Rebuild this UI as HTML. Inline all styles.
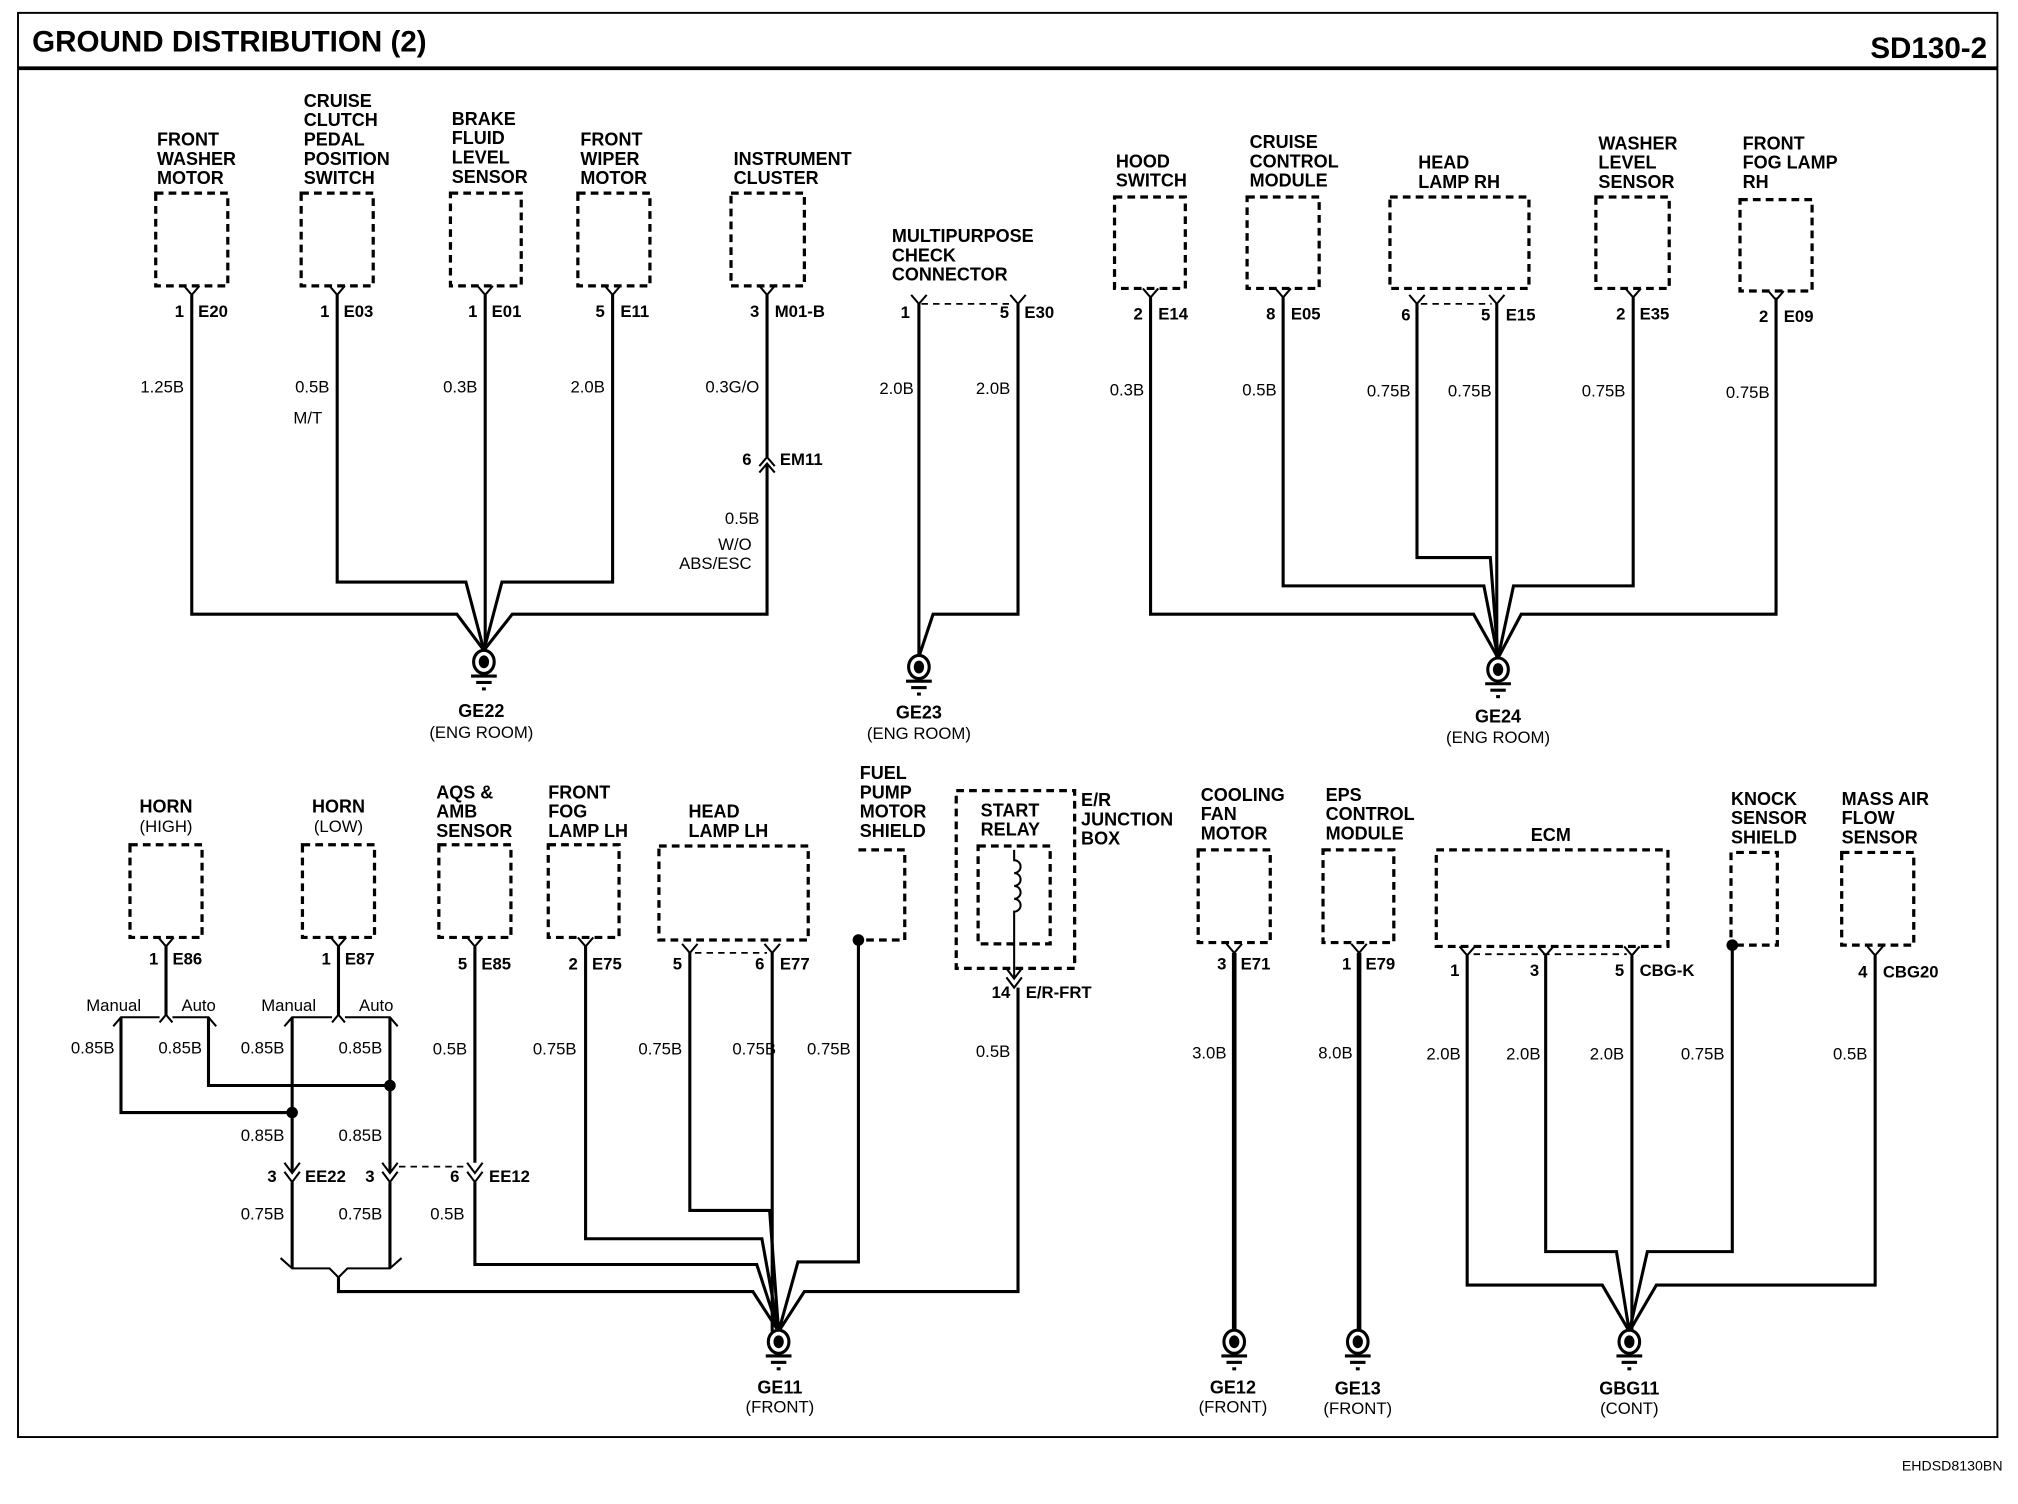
<!DOCTYPE html>
<html><head><meta charset="utf-8"><style>
html,body{margin:0;padding:0;background:#fff;}
svg{display:block;}
text{font-family:"Liberation Sans",Arial,sans-serif;fill:#000;}
.l{font-weight:bold;font-size:14px;}
.s{font-size:13px;}
.p{font-size:13px;font-weight:bold;}
.d{fill:none;stroke:#000;stroke-width:2.5;stroke-dasharray:6 4;}
.w{fill:none;stroke:#000;stroke-width:2.4;stroke-linejoin:miter;}
.t{fill:none;stroke:#000;stroke-width:3.6;}
.c{fill:none;stroke:#000;stroke-width:1.6;}
.dl{fill:none;stroke:#000;stroke-width:1.4;stroke-dasharray:5 4;}
</style></head><body>
<svg width="2018" height="1504" viewBox="0 0 1568 1168" preserveAspectRatio="none" xmlns="http://www.w3.org/2000/svg">
<defs>
<g id="gnd"><ellipse cx="0" cy="0" rx="8" ry="9" fill="#fff" stroke="#000" stroke-width="2.4"/><ellipse cx="0" cy="0" rx="4" ry="5" fill="#000"/><line x1="-10" y1="11" x2="10" y2="11" stroke="#000" stroke-width="2.4"/><line x1="-6" y1="16" x2="6" y2="16" stroke="#000" stroke-width="2.4"/><line x1="-1.5" y1="21" x2="1.5" y2="21" stroke="#000" stroke-width="2.4"/></g>
<path id="pin" d="M-6,-7 L0,0 L6,-7" fill="none" stroke="#000" stroke-width="1.6"/>
</defs>
<!-- frame -->
<rect x="14" y="10" width="1538" height="1106" fill="none" stroke="#000" stroke-width="1.5"/>
<line x1="14" y1="53" x2="1552" y2="53" stroke="#000" stroke-width="3"/>
<text x="25" y="40" style="font-weight:bold;font-size:23px">GROUND DISTRIBUTION (2)</text>
<text x="1544" y="45" text-anchor="end" style="font-weight:bold;font-size:23px">SD130-2</text>
<text x="1556" y="1142" text-anchor="end" style="font-size:11px">EHDSD8130BN</text>

<!-- ===== TOP LEFT GE22 ===== -->
<text class="l" x="122" y="113">FRONT</text><text class="l" x="122" y="128">WASHER</text><text class="l" x="122" y="143">MOTOR</text>
<rect class="d" x="121" y="150" width="56" height="72"/>
<use href="#pin" x="149" y="229"/>
<text class="p" x="143" y="246" text-anchor="end">1</text><text class="p" x="154" y="246">E20</text>
<text class="s" x="143" y="305" text-anchor="end">1.25B</text>

<text class="l" x="236" y="83">CRUISE</text><text class="l" x="236" y="98">CLUTCH</text><text class="l" x="236" y="113">PEDAL</text><text class="l" x="236" y="128">POSITION</text><text class="l" x="236" y="143">SWITCH</text>
<rect class="d" x="234" y="150" width="56" height="72"/>
<use href="#pin" x="262" y="229"/>
<text class="p" x="256" y="246" text-anchor="end">1</text><text class="p" x="267" y="246">E03</text>
<text class="s" x="256" y="305" text-anchor="end">0.5B</text><text class="s" x="228" y="329">M/T</text>

<text class="l" x="351" y="97">BRAKE</text><text class="l" x="351" y="112">FLUID</text><text class="l" x="351" y="127">LEVEL</text><text class="l" x="351" y="142">SENSOR</text>
<rect class="d" x="350" y="150" width="55" height="72"/>
<use href="#pin" x="377" y="229"/>
<text class="p" x="371" y="246" text-anchor="end">1</text><text class="p" x="382" y="246">E01</text>
<text class="s" x="371" y="305" text-anchor="end">0.3B</text>

<text class="l" x="451" y="113">FRONT</text><text class="l" x="451" y="128">WIPER</text><text class="l" x="451" y="143">MOTOR</text>
<rect class="d" x="449" y="150" width="56" height="72"/>
<use href="#pin" x="476" y="229"/>
<text class="p" x="470" y="246" text-anchor="end">5</text><text class="p" x="482" y="246">E11</text>
<text class="s" x="470" y="305" text-anchor="end">2.0B</text>

<text class="l" x="570" y="128">INSTRUMENT</text><text class="l" x="570" y="143">CLUSTER</text>
<rect class="d" x="568" y="150" width="57" height="72"/>
<use href="#pin" x="596" y="229"/>
<text class="p" x="590" y="246" text-anchor="end">3</text><text class="p" x="602" y="246">M01-B</text>
<text class="s" x="590" y="305" text-anchor="end">0.3G/O</text>
<path d="M590,362 L596,355 L602,362" class="c"/><path d="M590,367 L596,360 L602,367" class="c"/>
<text class="p" x="584" y="361" text-anchor="end">6</text><text class="p" x="606" y="361">EM11</text>
<text class="s" x="590" y="407" text-anchor="end">0.5B</text><text class="s" x="584" y="427" text-anchor="end">W/O</text><text class="s" x="584" y="442" text-anchor="end">ABS/ESC</text>

<path class="w" d="M149,229 V477 H355 L376,505"/>
<path class="w" d="M262,229 V452 H362 L376,505"/>
<path class="w" d="M377,229 V505"/>
<path class="w" d="M476,229 V452 H390 L376,505"/>
<path class="w" d="M596,229 V355 M596,360 V477 H398 L376,505"/>
<use href="#gnd" x="376" y="514"/>
<text class="l" x="374" y="557" text-anchor="middle">GE22</text><text class="s" x="374" y="573" text-anchor="middle">(ENG ROOM)</text>

<!-- ===== GE23 ===== -->
<text class="l" x="693" y="188">MULTIPURPOSE</text><text class="l" x="693" y="203">CHECK</text><text class="l" x="693" y="218">CONNECTOR</text>
<use href="#pin" x="714" y="236"/><use href="#pin" x="791" y="236"/>
<line class="dl" x1="716" y1="236" x2="787" y2="236"/>
<text class="p" x="707" y="247" text-anchor="end">1</text><text class="p" x="784" y="247" text-anchor="end">5</text><text class="p" x="796" y="247">E30</text>
<text class="s" x="710" y="306" text-anchor="end">2.0B</text><text class="s" x="785" y="306" text-anchor="end">2.0B</text>
<path class="w" d="M714,236 V510"/>
<path class="w" d="M791,236 V477 H725 L714,510"/>
<use href="#gnd" x="714" y="518"/>
<text class="l" x="714" y="558" text-anchor="middle">GE23</text><text class="s" x="714" y="574" text-anchor="middle">(ENG ROOM)</text>

<!-- ===== GE24 ===== -->
<text class="l" x="867" y="130">HOOD</text><text class="l" x="867" y="145">SWITCH</text>
<rect class="d" x="866" y="153" width="55" height="71"/>
<use href="#pin" x="894" y="231"/>
<text class="p" x="888" y="248" text-anchor="end">2</text><text class="p" x="900" y="248">E14</text>
<text class="s" x="889" y="307" text-anchor="end">0.3B</text>

<text class="l" x="971" y="115">CRUISE</text><text class="l" x="971" y="130">CONTROL</text><text class="l" x="971" y="145">MODULE</text>
<rect class="d" x="969" y="153" width="56" height="71"/>
<use href="#pin" x="997" y="231"/>
<text class="p" x="991" y="248" text-anchor="end">8</text><text class="p" x="1003" y="248">E05</text>
<text class="s" x="992" y="307" text-anchor="end">0.5B</text>

<text class="l" x="1102" y="131">HEAD</text><text class="l" x="1102" y="146">LAMP RH</text>
<rect class="d" x="1080" y="153" width="108" height="71"/>
<use href="#pin" x="1101" y="236"/><use href="#pin" x="1163" y="236"/>
<line class="dl" x1="1104" y1="236" x2="1159" y2="236"/>
<text class="p" x="1096" y="249" text-anchor="end">6</text><text class="p" x="1158" y="249" text-anchor="end">5</text><text class="p" x="1170" y="249">E15</text>
<text class="s" x="1096" y="308" text-anchor="end">0.75B</text><text class="s" x="1159" y="308" text-anchor="end">0.75B</text>

<text class="l" x="1242" y="116">WASHER</text><text class="l" x="1242" y="131">LEVEL</text><text class="l" x="1242" y="146">SENSOR</text>
<rect class="d" x="1240" y="153" width="57" height="71"/>
<use href="#pin" x="1269" y="231"/>
<text class="p" x="1263" y="248" text-anchor="end">2</text><text class="p" x="1274" y="248">E35</text>
<text class="s" x="1263" y="308" text-anchor="end">0.75B</text>

<text class="l" x="1354" y="116">FRONT</text><text class="l" x="1354" y="131">FOG LAMP</text><text class="l" x="1354" y="146">RH</text>
<rect class="d" x="1352" y="155" width="56" height="71"/>
<use href="#pin" x="1380" y="233"/>
<text class="p" x="1374" y="250" text-anchor="end">2</text><text class="p" x="1386" y="250">E09</text>
<text class="s" x="1375" y="309" text-anchor="end">0.75B</text>

<path class="w" d="M894,231 V477 H1145 L1164,511"/>
<path class="w" d="M997,231 V455 H1153 L1164,511"/>
<path class="w" d="M1101,236 V433 H1158 L1164,511"/>
<path class="w" d="M1163,236 V511"/>
<path class="w" d="M1269,231 V455 H1176 L1164,511"/>
<path class="w" d="M1380,231 V477 H1182 L1164,511"/>
<use href="#gnd" x="1164" y="520"/>
<text class="l" x="1164" y="561" text-anchor="middle">GE24</text><text class="s" x="1164" y="577" text-anchor="middle">(ENG ROOM)</text>

<!-- ===== BOTTOM GE11 ===== -->
<text class="l" x="129" y="631" text-anchor="middle">HORN</text><text class="s" x="129" y="646" text-anchor="middle">(HIGH)</text>
<rect class="d" x="101" y="656" width="56" height="72"/>
<use href="#pin" x="129" y="735"/>
<text class="p" x="123" y="749" text-anchor="end">1</text><text class="p" x="134" y="749">E86</text>
<text class="s" x="67" y="785">Manual</text><text class="s" x="141" y="785">Auto</text>
<path class="w" d="M129,735 V788"/>
<path class="c" d="M124,794 L129,788 L134,794"/>
<path class="c" d="M88,797 L94,790 H124 M134,790 H162 L168,797"/>
<text class="s" x="89" y="818" text-anchor="end">0.85B</text><text class="s" x="157" y="818" text-anchor="end">0.85B</text>

<text class="l" x="263" y="631" text-anchor="middle">HORN</text><text class="s" x="263" y="646" text-anchor="middle">(LOW)</text>
<rect class="d" x="235" y="656" width="56" height="72"/>
<use href="#pin" x="263" y="735"/>
<text class="p" x="257" y="749" text-anchor="end">1</text><text class="p" x="268" y="749">E87</text>
<text class="s" x="203" y="785">Manual</text><text class="s" x="279" y="785">Auto</text>
<path class="w" d="M263,735 V788"/>
<path class="c" d="M258,794 L263,788 L268,794"/>
<path class="c" d="M221,797 L227,790 H258 M268,790 H303 L309,797"/>
<text class="s" x="221" y="818" text-anchor="end">0.85B</text><text class="s" x="297" y="818" text-anchor="end">0.85B</text>

<path class="w" d="M94,790 V864 H227"/>
<path class="w" d="M162,790 V843 H303"/>
<path class="w" d="M227,790 V910"/>
<path class="w" d="M303,790 V910"/>
<circle cx="227" cy="864" r="4.5"/><circle cx="303" cy="843" r="4.5"/>
<text class="s" x="221" y="886" text-anchor="end">0.85B</text><text class="s" x="297" y="886" text-anchor="end">0.85B</text>
<path class="c" d="M221,903 L227,911 L233,903 M221,910 L227,918 L233,910"/>
<path class="c" d="M297,903 L303,911 L309,903 M297,910 L303,918 L309,910"/>
<path class="c" d="M363,903 L369,911 L375,903 M363,910 L369,918 L375,910"/>
<line class="dl" x1="310" y1="906" x2="362" y2="906"/>
<text class="p" x="215" y="918" text-anchor="end">3</text><text class="p" x="237" y="918">EE22</text>
<text class="p" x="291" y="918" text-anchor="end">3</text>
<text class="p" x="357" y="918" text-anchor="end">6</text><text class="p" x="380" y="918">EE12</text>
<text class="s" x="221" y="947" text-anchor="end">0.75B</text><text class="s" x="297" y="947" text-anchor="end">0.75B</text><text class="s" x="361" y="947" text-anchor="end">0.5B</text>
<path class="w" d="M227,918 V985"/><path class="w" d="M303,918 V985"/>
<path class="c" d="M218,977 L227,985 H256 L263,992 L270,985 H303 L312,977"/>
<path class="w" d="M263,992 V1003 H585 L605,1034"/>

<text class="l" x="339" y="620">AQS &amp;</text><text class="l" x="339" y="635">AMB</text><text class="l" x="339" y="650">SENSOR</text>
<rect class="d" x="341" y="656" width="56" height="72"/>
<use href="#pin" x="369" y="735"/>
<text class="p" x="363" y="753" text-anchor="end">5</text><text class="p" x="374" y="753">E85</text>
<text class="s" x="363" y="819" text-anchor="end">0.5B</text>
<path class="w" d="M369,735 V903 M369,918 V982 H588 L605,1034"/>

<text class="l" x="426" y="620">FRONT</text><text class="l" x="426" y="635">FOG</text><text class="l" x="426" y="650">LAMP LH</text>
<rect class="d" x="426" y="656" width="55" height="72"/>
<use href="#pin" x="455" y="735"/>
<text class="p" x="449" y="753" text-anchor="end">2</text><text class="p" x="460" y="753">E75</text>
<text class="s" x="448" y="819" text-anchor="end">0.75B</text>
<path class="w" d="M455,735 V962 H592 L605,1034"/>

<text class="l" x="535" y="635">HEAD</text><text class="l" x="535" y="650">LAMP LH</text>
<rect class="d" x="512" y="657" width="116" height="73"/>
<use href="#pin" x="536" y="740"/><use href="#pin" x="600" y="740"/>
<line class="dl" x1="540" y1="740" x2="596" y2="740"/>
<text class="p" x="530" y="753" text-anchor="end">5</text><text class="p" x="594" y="753" text-anchor="end">6</text><text class="p" x="606" y="753">E77</text>
<text class="s" x="530" y="819" text-anchor="end">0.75B</text><text class="s" x="603" y="819" text-anchor="end">0.75B</text><text class="s" x="661" y="819" text-anchor="end">0.75B</text>
<path class="w" d="M536,740 V940 H598 L605,1034"/>
<path class="w" d="M600,740 V1034"/>

<text class="l" x="668" y="605">FUEL</text><text class="l" x="668" y="620">PUMP</text><text class="l" x="668" y="635">MOTOR</text><text class="l" x="668" y="650">SHIELD</text>
<path class="d" d="M667,660 H703 V730 H670"/>
<circle cx="667" cy="730" r="4.5"/>
<path class="w" d="M667,730 V980 H620 L605,1034"/>

<rect class="d" x="743" y="614" width="92" height="138"/>
<text class="l" x="762" y="634">START</text><text class="l" x="762" y="649">RELAY</text>
<text class="l" x="840" y="626">E/R</text><text class="l" x="840" y="641">JUNCTION</text><text class="l" x="840" y="656">BOX</text>
<rect class="d" x="760" y="657" width="56" height="76"/>
<path class="c" d="M788,660 V668 a5,5 0 1,1 0,10 a5,5 0 1,1 0,10 a5,5 0 1,1 0,10 a5,5 0 1,1 0,10 V760"/>
<path class="c" d="M782,752 L788,760 L794,752 M782,759 L788,767 L794,759"/>
<text class="p" x="785" y="775" text-anchor="end">14</text><text class="p" x="797" y="775">E/R-FRT</text>
<text class="s" x="785" y="821" text-anchor="end">0.5B</text>
<path class="w" d="M791,767 V1003 H625 L605,1034"/>
<use href="#gnd" x="605" y="1042"/>
<text class="l" x="606" y="1082" text-anchor="middle">GE11</text><text class="s" x="606" y="1097" text-anchor="middle">(FRONT)</text>

<!-- GE12 / GE13 -->
<text class="l" x="933" y="622">COOLING</text><text class="l" x="933" y="637">FAN</text><text class="l" x="933" y="652">MOTOR</text>
<rect class="d" x="931" y="660" width="56" height="72"/>
<use href="#pin" x="959" y="740"/>
<text class="p" x="953" y="753" text-anchor="end">3</text><text class="p" x="964" y="753">E71</text>
<text class="s" x="953" y="822" text-anchor="end">3.0B</text>
<path class="t" d="M959,740 V1034"/>
<use href="#gnd" x="959" y="1042"/>
<text class="l" x="958" y="1082" text-anchor="middle">GE12</text><text class="s" x="958" y="1097" text-anchor="middle">(FRONT)</text>

<text class="l" x="1030" y="622">EPS</text><text class="l" x="1030" y="637">CONTROL</text><text class="l" x="1030" y="652">MODULE</text>
<rect class="d" x="1028" y="660" width="55" height="72"/>
<use href="#pin" x="1056" y="740"/>
<text class="p" x="1050" y="753" text-anchor="end">1</text><text class="p" x="1061" y="753">E79</text>
<text class="s" x="1051" y="822" text-anchor="end">8.0B</text>
<path class="t" d="M1056,740 V1034"/>
<use href="#gnd" x="1055" y="1042"/>
<text class="l" x="1055" y="1083" text-anchor="middle">GE13</text><text class="s" x="1055" y="1098" text-anchor="middle">(FRONT)</text>

<!-- GBG11 -->
<text class="l" x="1205" y="653" text-anchor="middle">ECM</text>
<rect class="d" x="1116" y="660" width="180" height="75"/>
<use href="#pin" x="1140" y="742"/><use href="#pin" x="1201" y="742"/><use href="#pin" x="1268" y="742"/>
<line class="dl" x1="1145" y1="741" x2="1264" y2="741"/>
<text class="p" x="1134" y="758" text-anchor="end">1</text><text class="p" x="1196" y="758" text-anchor="end">3</text><text class="p" x="1262" y="758" text-anchor="end">5</text><text class="p" x="1274" y="758">CBG-K</text>
<text class="s" x="1135" y="823" text-anchor="end">2.0B</text><text class="s" x="1197" y="823" text-anchor="end">2.0B</text><text class="s" x="1262" y="823" text-anchor="end">2.0B</text><text class="s" x="1340" y="823" text-anchor="end">0.75B</text><text class="s" x="1451" y="823" text-anchor="end">0.5B</text>

<text class="l" x="1345" y="625">KNOCK</text><text class="l" x="1345" y="640">SENSOR</text><text class="l" x="1345" y="655">SHIELD</text>
<path class="d" d="M1349,734 H1381 V662 H1345 V730"/>
<circle cx="1346" cy="734" r="4.5"/>

<text class="l" x="1431" y="625">MASS AIR</text><text class="l" x="1431" y="640">FLOW</text><text class="l" x="1431" y="655">SENSOR</text>
<rect class="d" x="1431" y="662" width="56" height="72"/>
<use href="#pin" x="1457" y="742"/>
<text class="p" x="1451" y="759" text-anchor="end">4</text><text class="p" x="1463" y="759">CBG20</text>

<path class="w" d="M1140,742 V998 H1245 L1266,1034"/>
<path class="w" d="M1201,742 V972 H1256 L1266,1034"/>
<path class="w" d="M1268,742 V1034"/>
<path class="w" d="M1346,734 V972 H1280 L1266,1034"/>
<path class="w" d="M1457,742 V998 H1287 L1266,1034"/>
<use href="#gnd" x="1266" y="1042"/>
<text class="l" x="1266" y="1083" text-anchor="middle">GBG11</text><text class="s" x="1266" y="1098" text-anchor="middle">(CONT)</text>
</svg>
</body></html>
